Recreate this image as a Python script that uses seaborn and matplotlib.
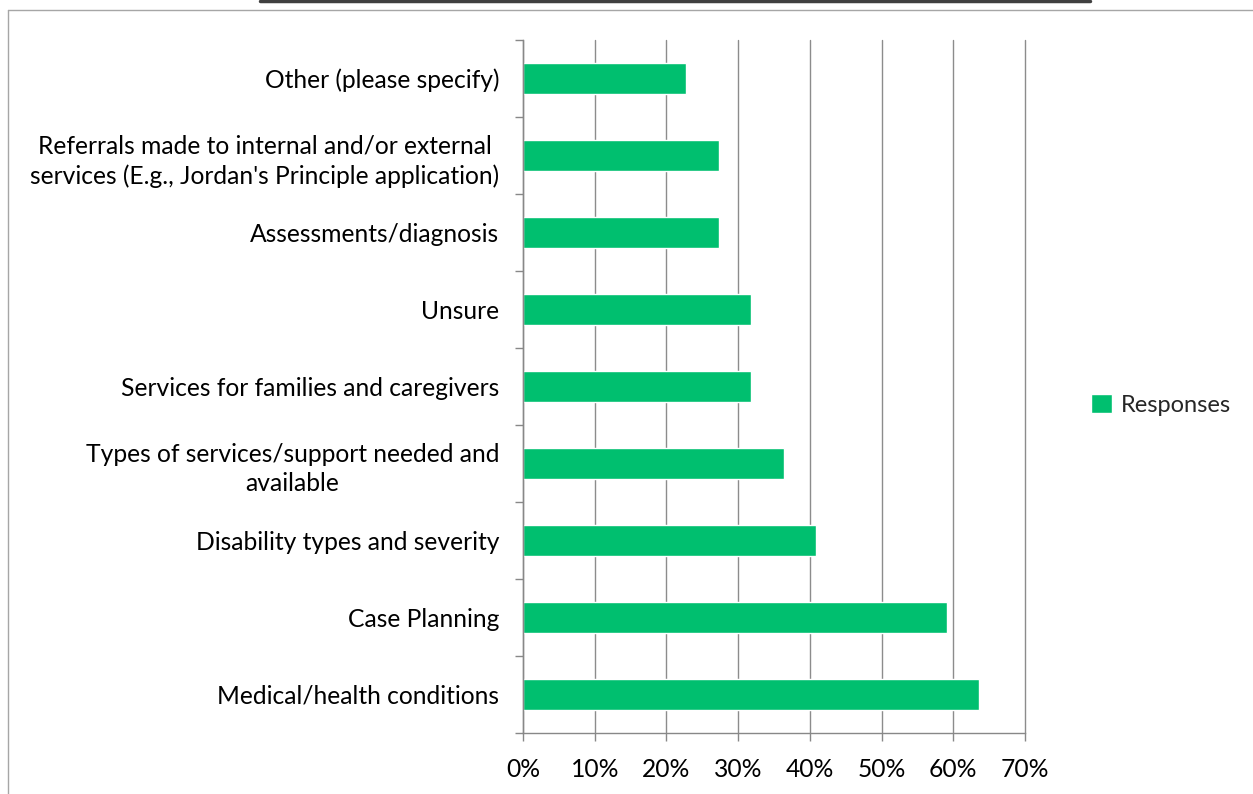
import matplotlib
matplotlib.use("Agg")
import matplotlib.pyplot as plt
import seaborn as sns
import pandas as pd
import numpy as np
from matplotlib.lines import Line2D

categories = [
    "Other (please specify)",
    "Referrals made to internal and/or external\nservices (E.g., Jordan's Principle application)",
    "Assessments/diagnosis",
    "Unsure",
    "Services for families and caregivers",
    "Types of services/support needed and\navailable",
    "Disability types and severity",
    "Case Planning",
    "Medical/health conditions",
]
values = [22.7, 27.3, 27.3, 31.8, 31.8, 36.4, 40.9, 59.1, 63.6]
series_name = "Responses"
xticks = [0, 10, 20, 30, 40, 50, 60, 70]
color = "#00BF6F"

sns.set_theme(style="white")
plt.rcParams["font.family"] = ["Lato", "DejaVu Sans"]

FS = 17.7
W, H = 1253, 794
fig = plt.figure(figsize=(W / 100, H / 100), dpi=100)
ax = fig.add_axes([523 / W, 1 - 733 / H, (1025 - 523) / W, (733 - 40) / H])

df = pd.DataFrame({"cat": categories, "val": values, "series": series_name})
sns.barplot(data=df, y="cat", x="val", hue="series", palette=[color],
            width=0.4, ax=ax, orient="h", saturation=1)

ax.set_xlim(0, 70)
ax.set_ylim(len(categories) - 0.5, -0.5)
ax.set_xticks(xticks)
ax.set_xticklabels([f"{t}%" for t in xticks], fontsize=FS, color="#000000")
ax.set_yticks(range(len(categories)))
ax.set_yticklabels(categories, fontsize=FS, color="#000000",
                   multialignment="center", linespacing=1.35)
ax.tick_params(axis="y", length=0, pad=17)
ax.tick_params(axis="x", length=6, width=1, color="#888888", bottom=True, pad=12)
ax.set_yticks(np.arange(-0.5, len(categories), 1), minor=True)
ax.tick_params(axis="y", which="minor", length=6, width=1, color="#888888", left=True)
ax.set_xlabel("")
ax.set_ylabel("")
ax.grid(axis="x", color="#8c8c8c", linewidth=1)
for gl in ax.get_xgridlines():
    gl.set_clip_on(False)
ax.set_axisbelow(True)
for s in ["top", "right"]:
    ax.spines[s].set_visible(False)
for s in ["left", "bottom"]:
    ax.spines[s].set_color("#888888")
    ax.spines[s].set_linewidth(1)

leg = ax.legend(loc="center left", bbox_to_anchor=(1091 / W, 1 - 405 / H),
                bbox_transform=fig.transFigure, frameon=False, fontsize=17,
                handlelength=0.88, handleheight=0.88, handletextpad=0.4,
                borderaxespad=0, borderpad=0)

# outer chart frame
fig.add_artist(Line2D([8 / W, 8 / W], [0, 1 - 10 / H], color="#a6a6a6", lw=1,
                      transform=fig.transFigure))
fig.add_artist(Line2D([8 / W, 1], [1 - 10 / H, 1 - 10 / H], color="#a6a6a6", lw=1,
                      transform=fig.transFigure))
fig.add_artist(Line2D([260 / W, 1090 / W], [1 - 1 / H, 1 - 1 / H], color="#404040",
                      lw=2.5, transform=fig.transFigure))

fig.savefig("out.png", dpi=100)
